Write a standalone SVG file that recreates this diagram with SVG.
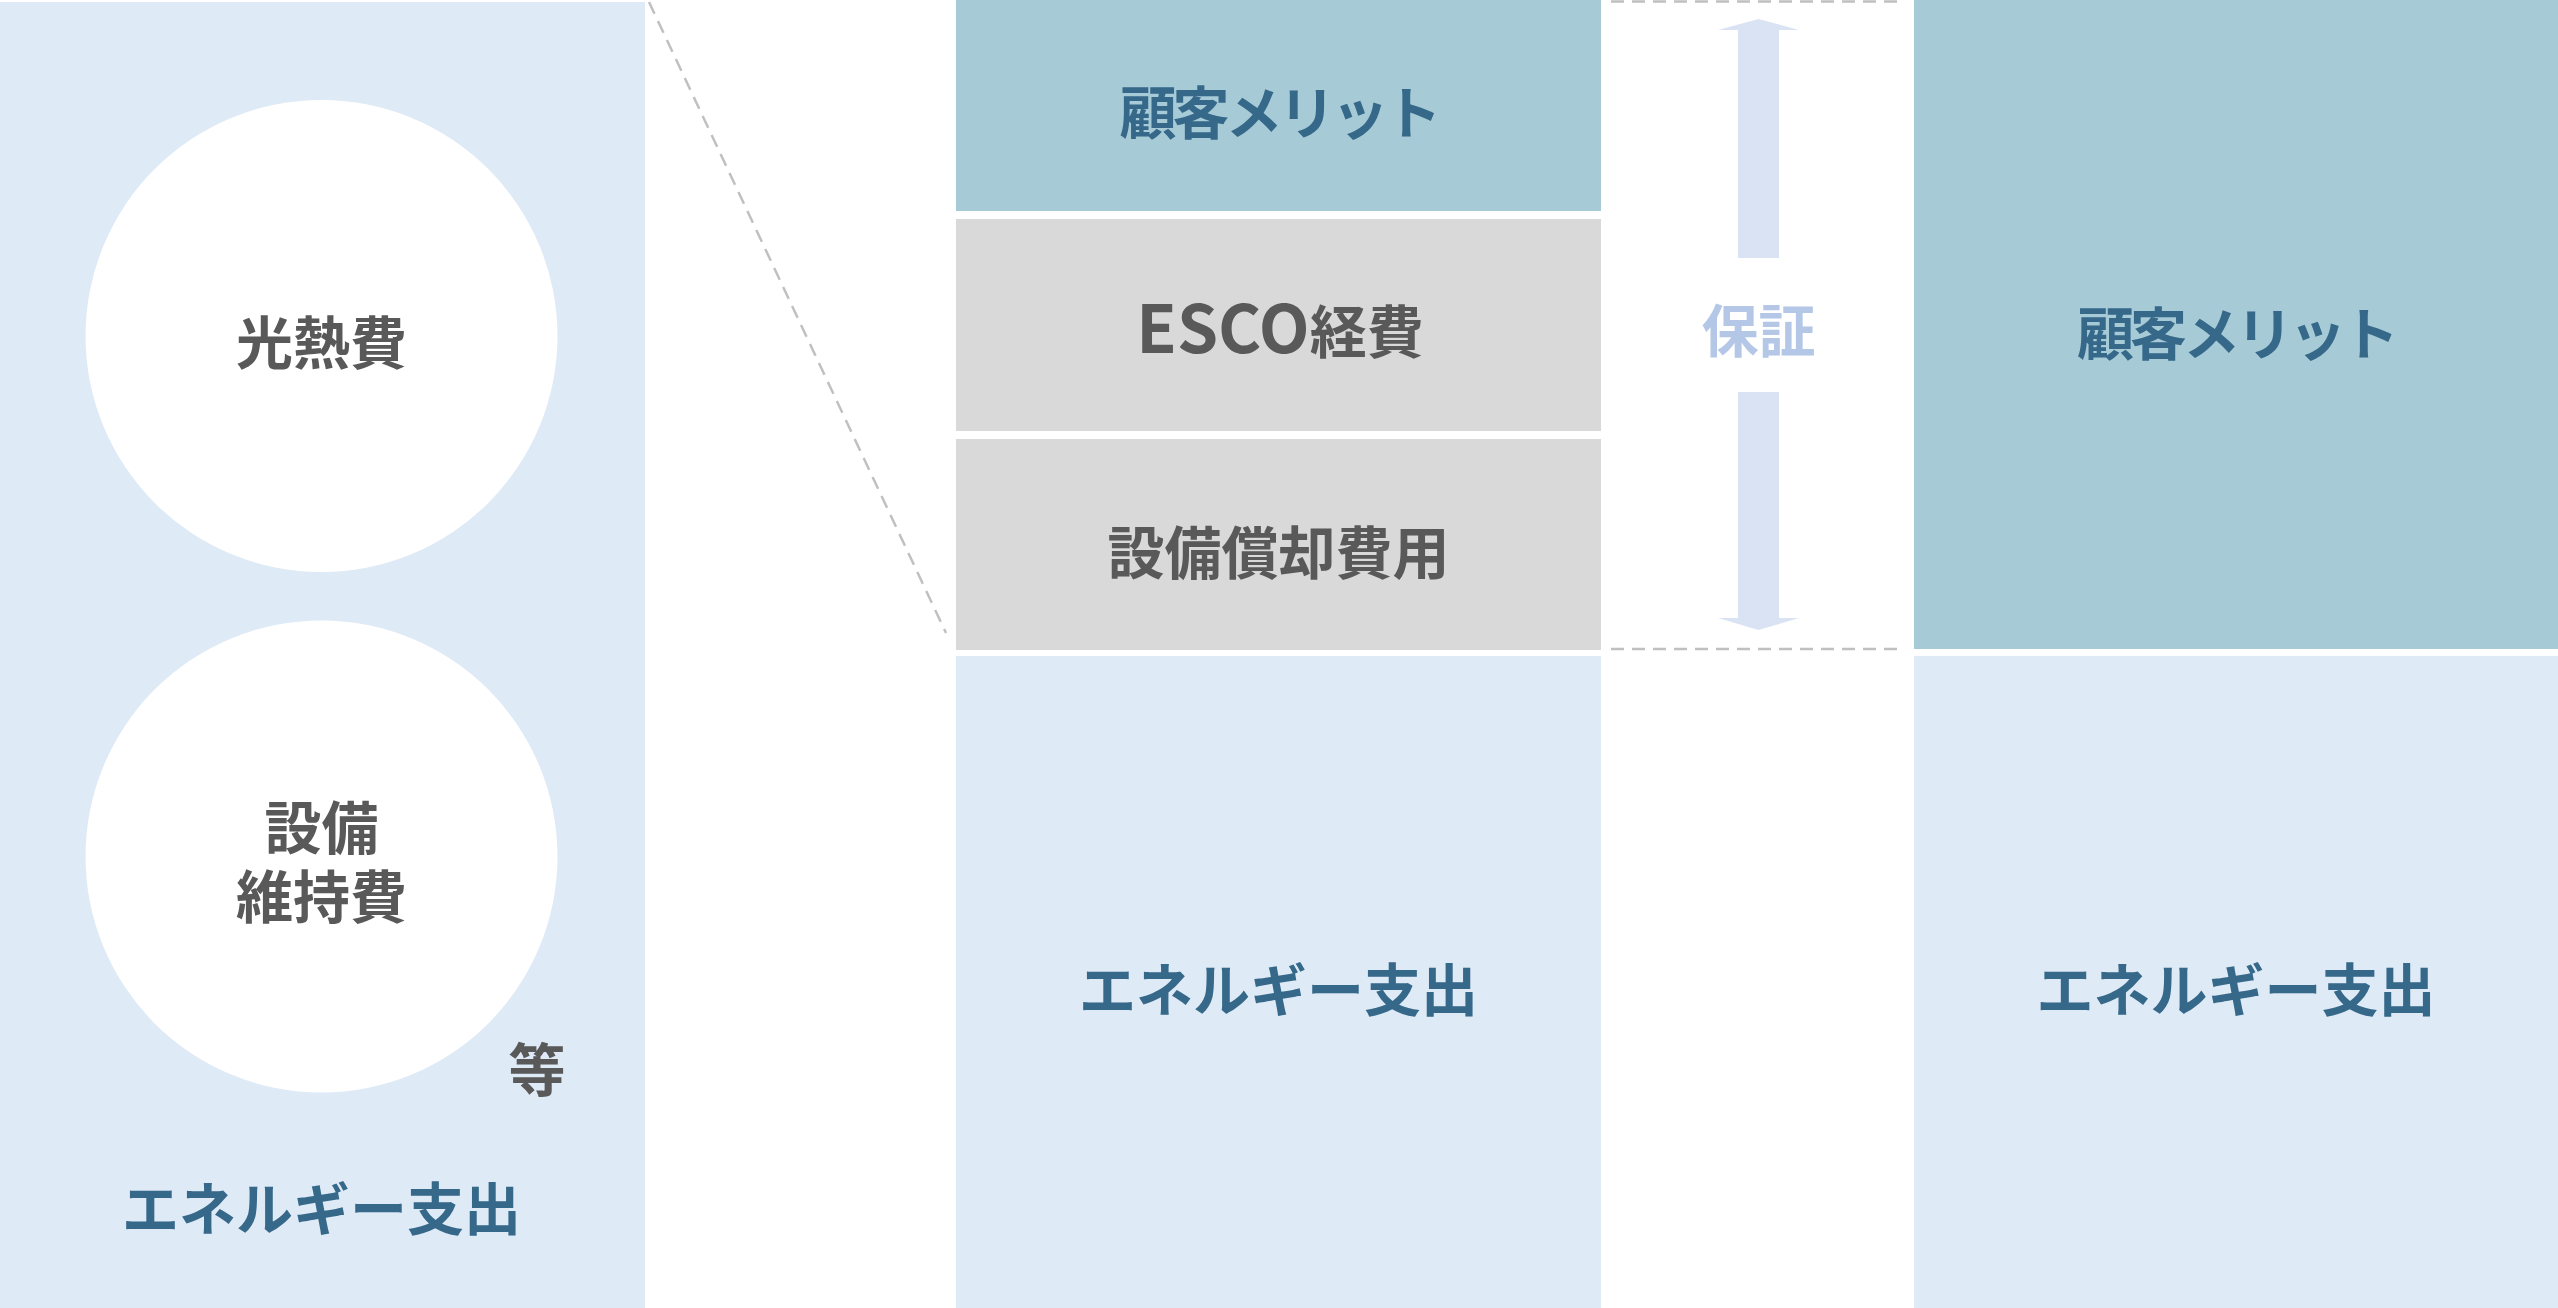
<svg xmlns="http://www.w3.org/2000/svg" width="2558" height="1308" viewBox="0 0 2558 1308">
<defs>
<style>
.t{font-family:"Noto Sans CJK JP","Noto Sans",sans-serif;font-weight:700;font-size:57px;text-anchor:middle}
.dk{fill:#595959}
.bl{fill:#36688a}
.gu{fill:#b4c7e7}
.lb{fill:#deeaf6}
.tl{fill:#a6cbd6}
.gr{fill:#d9d9d9}
.kana{letter-spacing:-4px}
.dash{stroke:#c0c0c0;stroke-width:2.5;stroke-dasharray:13 8;fill:none}
.arw{fill:#dae3f3}
</style>
</defs>
<rect width="2558" height="1308" fill="#ffffff"/>

<g id="left-panel">
<rect class="lb" x="0" y="2" width="645" height="1306"/>
<circle cx="321.5" cy="336" r="236" fill="#ffffff"/>
<text class="t dk" x="321.5" y="364">光熱費</text>
<circle cx="321.5" cy="856.5" r="236" fill="#ffffff"/>
<text class="t dk"><tspan x="321.5" y="849">設備</tspan><tspan x="321.5" y="918">維持費</tspan></text>
<text class="t dk" x="537" y="1091">等</text>
<text class="t bl" x="321.5" y="1230">エネルギー支出</text>
</g>

<g id="mid-merit">
<rect class="tl" x="956" y="0" width="645" height="211"/>
<text class="t bl kana" x="1278.5" y="134">顧客メリット</text>
</g>
<g id="mid-esco">
<rect class="gr" x="956" y="219" width="645" height="212"/>
<text class="t dk" x="1280" y="353"><tspan font-size="66">ESCO</tspan>経費</text>
</g>
<g id="mid-depr">
<rect class="gr" x="956" y="439" width="645" height="211"/>
<text class="t dk" x="1278.5" y="574">設備償却費用</text>
</g>
<g id="mid-energy">
<rect class="lb" x="956" y="656" width="645" height="652"/>
<text class="t bl" x="1278.5" y="1011">エネルギー支出</text>
</g>

<g id="right-merit">
<rect class="tl" x="1914" y="0" width="644" height="649"/>
<text class="t bl kana" x="2236" y="355">顧客メリット</text>
</g>
<g id="right-energy">
<rect class="lb" x="1914" y="656" width="644" height="652"/>
<text class="t bl" x="2236" y="1011">エネルギー支出</text>
</g>

<g id="guarantee">
<polygon class="arw" points="1718,30 1758.5,19 1799,30 1779,30 1779,258 1738,258 1738,30"/>
<polygon class="arw" points="1738,392 1779,392 1779,618 1799,618 1758.5,630 1718,618 1738,618"/>
<text class="t gu" x="1758.5" y="352">保証</text>
</g>

<g id="connectors">
<line class="dash" x1="649" y1="2" x2="946" y2="633"/>
<line class="dash" x1="1611" y1="1.5" x2="1902" y2="1.5"/>
<line class="dash" x1="1611" y1="649" x2="1902" y2="649"/>
</g>
</svg>
